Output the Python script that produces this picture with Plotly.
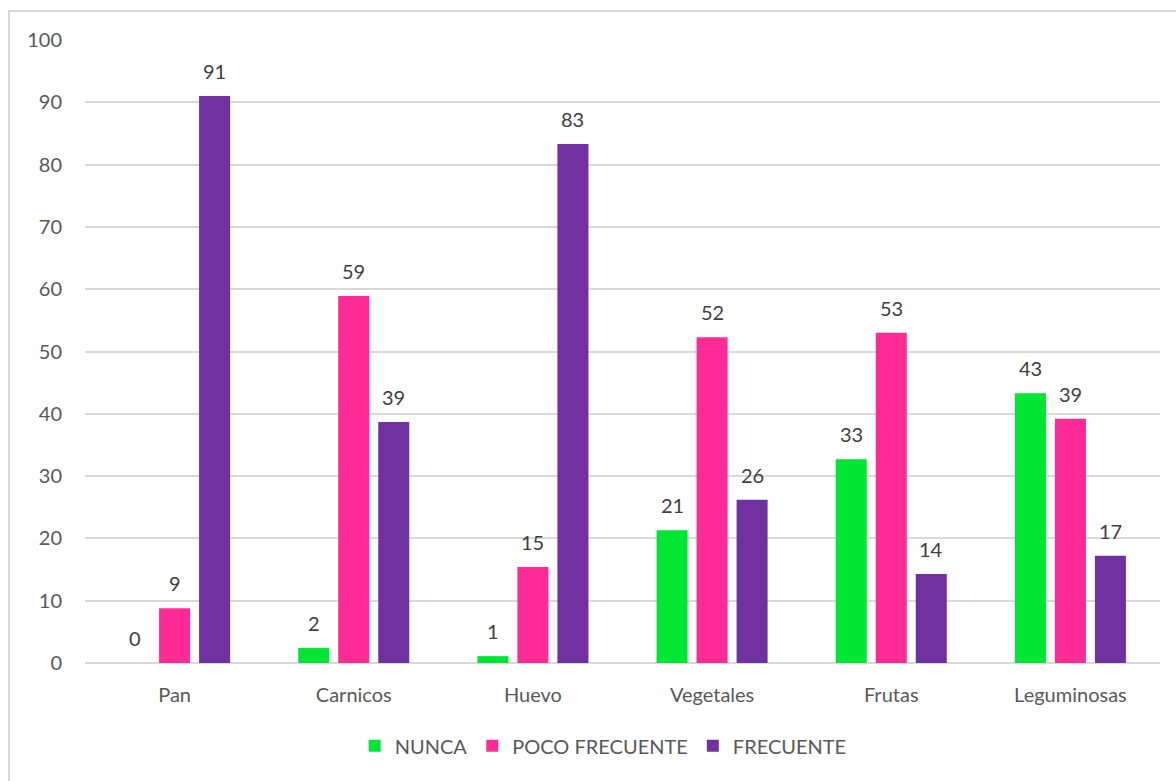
import plotly.graph_objects as go

categories = ["Pan", "Carnicos", "Huevo", "Vegetales", "Frutas", "Leguminosas"]
nunca = [0, 2.4, 1.1, 21.3, 32.7, 43.3]
poco_frecuente = [8.8, 58.9, 15.4, 52.3, 53.0, 39.2]
frecuente = [91.0, 38.7, 83.3, 26.2, 14.3, 17.2]
series_names = ["NUNCA", "POCO FRECUENTE", "FRECUENTE"]
colors = ["#00E632", "#FF2A95", "#7030A0"]

FONT = "Lato, 'Open Sans', sans-serif"
TXT = "#595959"

fig = go.Figure()
series = [nunca, poco_frecuente, frecuente]
for name, vals, col in zip(series_names, series, colors):
    fig.add_trace(go.Bar(x=categories, y=vals, name=name, marker_color=col,
                         marker_line_width=0))

shifts = [-40, 0, 40]
annotations = []
for vals, xs in zip(series, shifts):
    for c, v in zip(categories, vals):
        annotations.append(dict(x=c, y=v, text=f"{v:.0f}", showarrow=False,
                                xshift=xs, yshift=25, yanchor="middle",
                                font=dict(family=FONT, size=20, color="#404040")))

fig.update_layout(
    width=1176, height=781,
    margin=dict(l=85, r=16, t=40, b=118),
    paper_bgcolor="white", plot_bgcolor="white",
    barmode="group", bargap=0.33, bargroupgap=0.225,
    font=dict(family=FONT, size=20, color=TXT),
    annotations=annotations,
    legend=dict(orientation="h", x=0.482, xanchor="center", y=-0.133, yanchor="middle",
                font=dict(family=FONT, size=20, color=TXT), itemwidth=30,
                tracegroupgap=0),
    shapes=[dict(type="rect", xref="paper", yref="paper", x0=-0.0707, x1=1.2,
                 y0=-0.5, y1=1.0465, line=dict(color="#D9D9D9", width=2),
                 fillcolor="rgba(0,0,0,0)", layer="below")],
)
fig.update_yaxes(range=[0, 100], dtick=10, showgrid=True, gridcolor="#D9D9D9",
                 gridwidth=1.5, zeroline=True, zerolinecolor="#D9D9D9", zerolinewidth=1.5,
                 showline=False, ticks="", ticklabelstandoff=22,
                 tickfont=dict(family=FONT, size=20, color=TXT))
fig.update_xaxes(showline=False, ticks="", showgrid=False, ticklabelstandoff=18,
                 tickfont=dict(family=FONT, size=20, color=TXT))

fig.write_html("out.html")
